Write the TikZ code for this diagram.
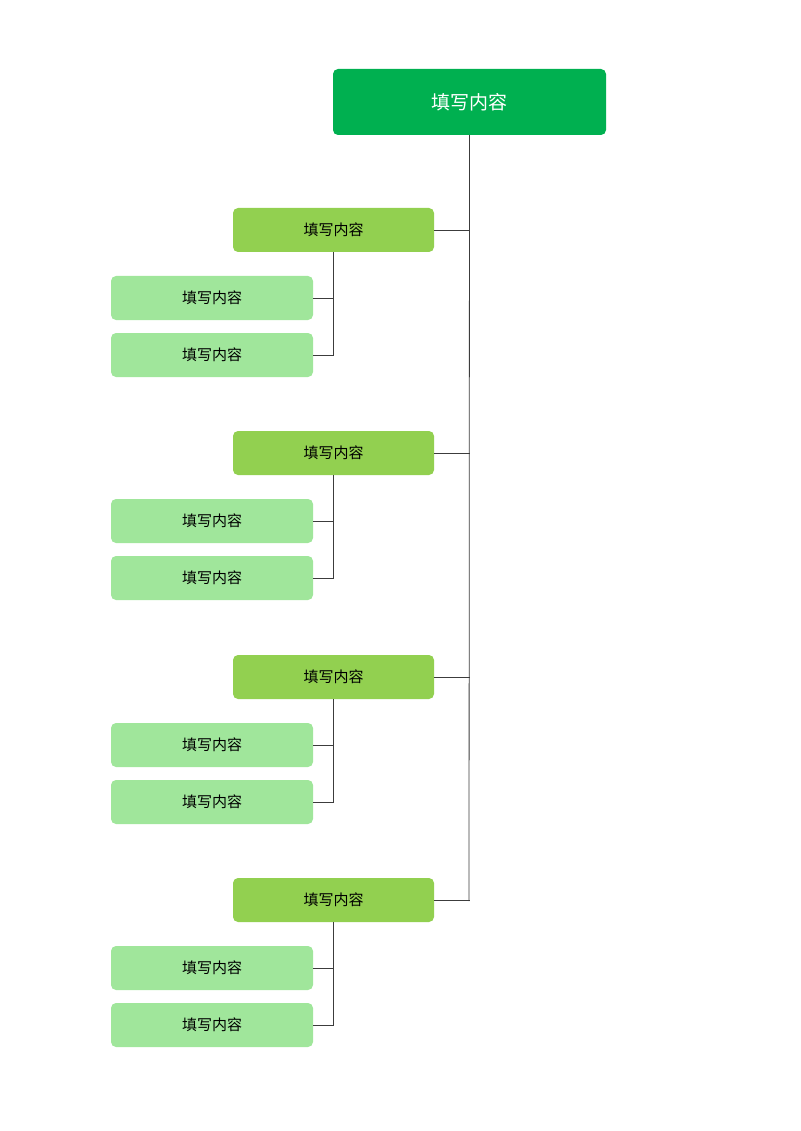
\documentclass[tikz,border=0pt]{standalone}
\usepackage{fontspec}
\setmainfont{Noto Sans CJK SC}
\begin{document}
\begin{tikzpicture}[x=1pt,y=-1pt,
  root/.style={rectangle,rounded corners=5pt,fill={rgb,255:red,0;green,176;blue,80},text=white,minimum width=273pt,minimum height=66pt,font=\fontsize{19}{22}\selectfont,inner sep=0pt},
  lvone/.style={rectangle,rounded corners=5pt,fill={rgb,255:red,146;green,208;blue,80},text=black,minimum width=201pt,minimum height=44pt,font=\fontsize{15}{18}\selectfont,inner sep=0pt},
  lvtwo/.style={rectangle,rounded corners=5pt,fill={rgb,255:red,160;green,230;blue,155},text=black,minimum width=202pt,minimum height=44pt,font=\fontsize{15}{18}\selectfont,inner sep=0pt},
  conn/.style={draw={rgb,255:red,60;green,60;blue,60},line width=0.8pt}]
\useasboundingbox (0,0) rectangle (800,1131);
\node[root] (r) at (469.5,102) {填写内容};
\coordinate (tb) at (469,901);
\draw[conn] (r.south) -- (tb);
\foreach \i/\y in {1/230,2/453,3/677,4/900}{
  \node[lvone] (a\i) at (333.5,\y) {填写内容};
  \node[lvtwo] (b\i) at (212,\y+68) {填写内容};
  \node[lvtwo] (c\i) at (212,\y+125) {填写内容};
  \draw[conn] (a\i.east) -- (a\i.east -| r.south);
  \draw[conn] (a\i.south) |- (c\i.east);
  \draw[conn] (b\i.east) -- (b\i.east -| a\i.south);
}
\end{tikzpicture}
\end{document}
